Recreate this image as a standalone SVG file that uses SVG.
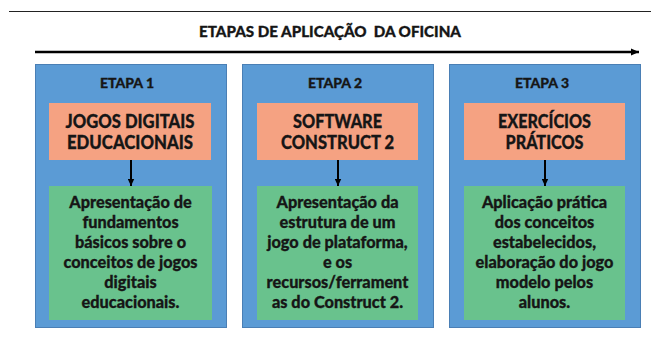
<svg xmlns="http://www.w3.org/2000/svg" width="660" height="341" viewBox="0 0 660 341">
<defs>
<marker id="ahMain" viewBox="0 0 8 8" refX="8" refY="4" markerWidth="8" markerHeight="8" orient="auto" markerUnits="userSpaceOnUse">
<path d="M0,0.5 L8,4 L0,7.5 z" fill="#000"/>
</marker>
<marker id="ahDown" viewBox="0 0 7 7" refX="7" refY="3.5" markerWidth="7" markerHeight="7" orient="auto" markerUnits="userSpaceOnUse">
<path d="M0,0.3 L7,3.5 L0,6.7 z" fill="#000"/>
</marker>
<style>
.t{font-family:Lato,"Liberation Sans",sans-serif;font-weight:900;fill:#161616;stroke:#161616;stroke-width:0.3;text-anchor:middle}
.stage{fill:#5b9bd5;stroke:#4a7fb5;stroke-width:1}
.head{fill:#f5a282}
.body{fill:#69c28d}
.lbl{font-size:14px}
.h{font-size:18.5px}
.b{font-size:16.3px}
.conn{stroke:#000;fill:none}
</style>
</defs>
<rect width="660" height="341" fill="#fff"/>
<line x1="9" y1="11.5" x2="651" y2="11.5" stroke="#222" stroke-width="1.2"/>
<text class="t" x="330" y="37" style="font-size:15px;white-space:pre" textLength="262" lengthAdjust="spacingAndGlyphs">ETAPAS DE APLICAÇÃO  DA OFICINA</text>

<g id="stage1">
<rect class="stage" x="35.5" y="64.5" width="191" height="263"/>
<text class="t lbl" x="127" y="88">ETAPA 1</text>
<rect class="head" x="49" y="103" width="162" height="57"/>
<text class="t h" x="130" y="128" textLength="129" lengthAdjust="spacingAndGlyphs">JOGOS DIGITAIS</text>
<text class="t h" x="130" y="149" textLength="126" lengthAdjust="spacingAndGlyphs">EDUCACIONAIS</text>
<rect class="body" x="49" y="186" width="163" height="134"/>
<text class="t b" x="130.5" y="208">Apresentação de</text>
<text class="t b" x="130.5" y="228">fundamentos</text>
<text class="t b" x="130.5" y="248">básicos sobre o</text>
<text class="t b" x="130.5" y="268">conceitos de jogos</text>
<text class="t b" x="130.5" y="288">digitais</text>
<text class="t b" x="130.5" y="308">educacionais.</text>
</g>

<g id="stage2">
<rect class="stage" x="242.5" y="64.5" width="191" height="263"/>
<text class="t lbl" x="335" y="88">ETAPA 2</text>
<rect class="head" x="257" y="103" width="161" height="57"/>
<text class="t h" x="337.5" y="128" textLength="89" lengthAdjust="spacingAndGlyphs">SOFTWARE</text>
<text class="t h" x="337.5" y="149" textLength="113" lengthAdjust="spacingAndGlyphs">CONSTRUCT 2</text>
<rect class="body" x="257" y="186" width="161" height="134"/>
<text class="t b" x="337.5" y="208">Apresentação da</text>
<text class="t b" x="337.5" y="228">estrutura de um</text>
<text class="t b" x="337.5" y="248">jogo de plataforma,</text>
<text class="t b" x="337.5" y="268">e os</text>
<text class="t b" x="337.5" y="288">recursos/ferrament</text>
<text class="t b" x="337.5" y="308">as do Construct 2.</text>
</g>

<g id="stage3">
<rect class="stage" x="449.5" y="64.5" width="191" height="263"/>
<text class="t lbl" x="542" y="88">ETAPA 3</text>
<rect class="head" x="464" y="103" width="161" height="57"/>
<text class="t h" x="544.5" y="128" textLength="93" lengthAdjust="spacingAndGlyphs">EXERCÍCIOS</text>
<text class="t h" x="544.5" y="149" textLength="78" lengthAdjust="spacingAndGlyphs">PRÁTICOS</text>
<rect class="body" x="464" y="186" width="161" height="134"/>
<text class="t b" x="544.5" y="208">Aplicação prática</text>
<text class="t b" x="544.5" y="228">dos conceitos</text>
<text class="t b" x="544.5" y="248">estabelecidos,</text>
<text class="t b" x="544.5" y="268">elaboração do jogo</text>
<text class="t b" x="544.5" y="288">modelo pelos</text>
<text class="t b" x="544.5" y="308">alunos.</text>
</g>

<g id="connectors">
<line class="conn" x1="35" y1="52" x2="639" y2="52" stroke-width="2.5" marker-end="url(#ahMain)"/>
<line class="conn" x1="131" y1="160" x2="131" y2="186" stroke-width="2" marker-end="url(#ahDown)"/>
<line class="conn" x1="338" y1="160" x2="338" y2="186" stroke-width="2" marker-end="url(#ahDown)"/>
<line class="conn" x1="545" y1="160" x2="545" y2="186" stroke-width="2" marker-end="url(#ahDown)"/>
</g>
</svg>
